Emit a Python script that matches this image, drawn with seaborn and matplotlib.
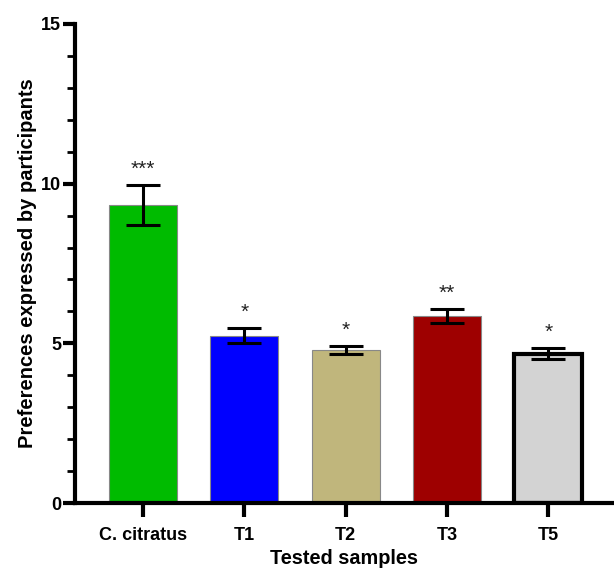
import matplotlib
matplotlib.use("Agg")
import matplotlib.pyplot as plt
import seaborn as sns
import pandas as pd
import numpy as np
from matplotlib.ticker import MultipleLocator

categories = ["C. citratus", "T1", "T2", "T3", "T5"]
means = [9.33, 5.24, 4.79, 5.86, 4.68]
errors = [0.62, 0.23, 0.13, 0.22, 0.17]
stars = ["***", "*", "*", "**", "*"]
colors = ["#00BB00", "#0000FF", "#C0B67C", "#9E0000", "#D3D3D3"]

sns.set_theme(style="white")
plt.rcParams['font.family'] = ['Liberation Sans', 'DejaVu Sans']
plt.rcParams['text.color'] = 'black'
plt.rcParams['axes.labelcolor'] = 'black'
plt.rcParams['xtick.color'] = 'black'
plt.rcParams['ytick.color'] = 'black'

df = pd.DataFrame({"sample": categories, "value": means})

fig = plt.figure(figsize=(6.14, 5.70), dpi=100)
ax = fig.add_axes([0.122, 0.1175, 0.875, 0.8405])

sns.barplot(data=df, x="sample", y="value", hue="sample", palette=colors,
            legend=False, errorbar=None, width=0.67, ax=ax, saturation=1)

for i, p in enumerate(ax.patches):
    if i == 4:
        p.set_edgecolor("black")
        p.set_linewidth(3)
    else:
        p.set_edgecolor("#888888")
        p.set_linewidth(0.8)

xs = np.arange(len(categories))
ax.errorbar(xs, means, yerr=errors, fmt="none", ecolor="black",
            elinewidth=2.2, capsize=12, capthick=2.2, zorder=5)

for x, m, e, s in zip(xs, means, errors, stars):
    ax.text(x, m + e + 0.2, s, ha="center", va="bottom", fontsize=15,
            color="#222222")

ax.set_ylim(0, 15)
ax.set_xlim(-0.67, 4.63)
ax.yaxis.set_major_locator(MultipleLocator(5))
ax.yaxis.set_minor_locator(MultipleLocator(1))

for side in ["top", "right"]:
    ax.spines[side].set_visible(False)
for side in ["left", "bottom"]:
    ax.spines[side].set_linewidth(3)
    ax.spines[side].set_color("black")

ax.tick_params(axis="y", which="major", direction="out", length=9, width=3,
               left=True, labelsize=13, pad=1)
ax.tick_params(axis="y", which="minor", direction="out", length=6, width=2,
               left=True)
ax.tick_params(axis="x", which="major", direction="out", length=10, width=3,
               bottom=True, labelsize=13, pad=7)
for lab in ax.get_xticklabels() + ax.get_yticklabels():
    lab.set_fontweight("bold")

ax.set_xlabel("Tested samples", fontsize=14.3, fontweight="bold", labelpad=4)
ax.set_ylabel("Preferences expressed by participants", fontsize=14.5,
              fontweight="bold", labelpad=3)

fig.savefig("out.png", dpi=100)
